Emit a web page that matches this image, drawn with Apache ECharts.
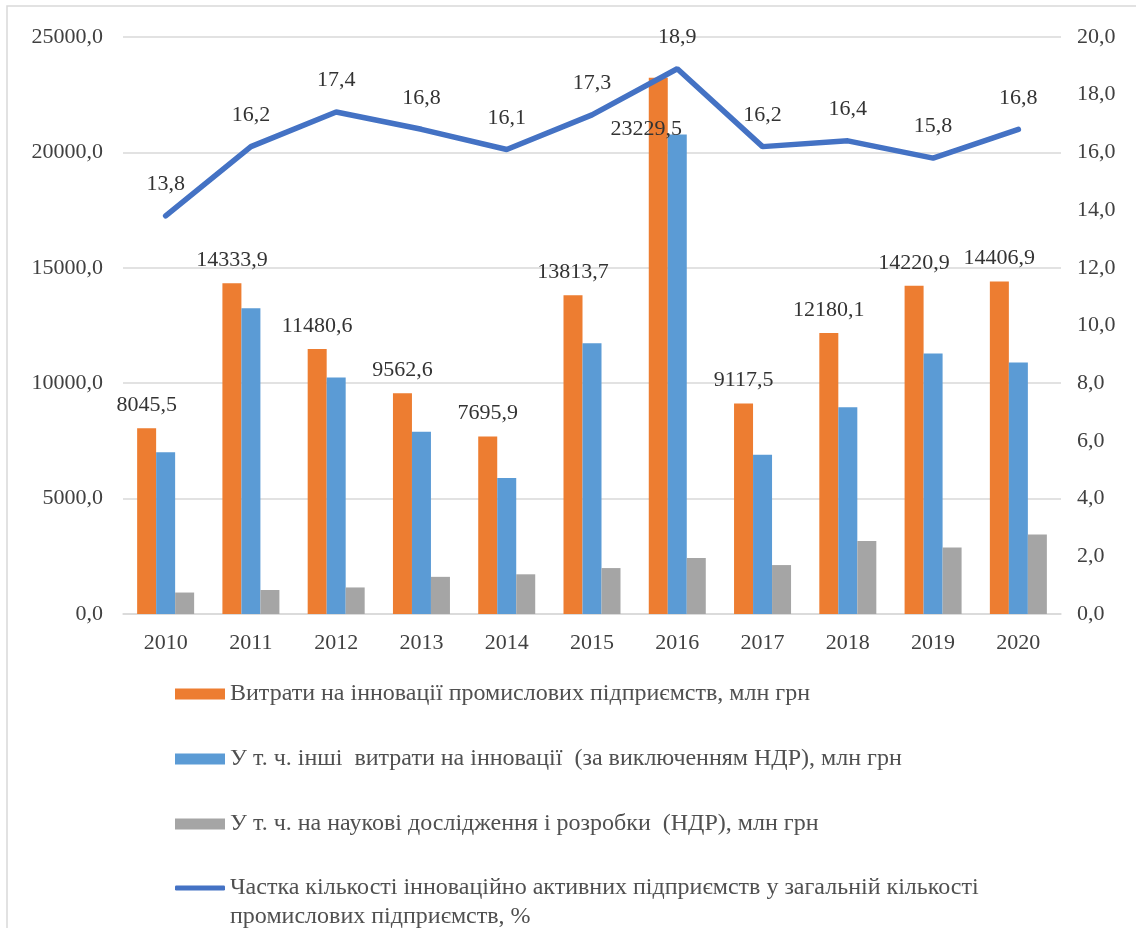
<!DOCTYPE html>
<html>
<head>
<meta charset="utf-8">
<script src="https://cdn.jsdelivr.net/npm/echarts@6/dist/echarts.min.js"></script>
<style>
	html, body { margin: 0; padding: 0; background: #fff; }
	#chart { width: 1136px; height: 928px; }
</style>
</head>
<body>
<div id="chart"></div>
<script>
	// дані з рисунка
	var years = ['2010', '2011', '2012', '2013', '2014', '2015', '2016', '2017', '2018', '2019', '2020'];
	var totalCosts = [8045.5, 14333.9, 11480.6, 9562.6, 7695.9, 13813.7, 23229.5, 9117.5, 12180.1, 14220.9, 14406.9];
	var otherCosts = [7010, 13250, 10250, 7900, 5890, 11730, 20780, 6900, 8960, 11290, 10900];
	var rndCosts = [930, 1040, 1150, 1610, 1720, 1990, 2430, 2120, 3160, 2880, 3440];
	var activeShare = [13.8, 16.2, 17.4, 16.8, 16.1, 17.3, 18.9, 16.2, 16.4, 15.8, 16.8];
	var leftTicks = { min: 0, max: 25000, interval: 5000 };
	var rightTicks = { min: 0, max: 20, interval: 2 };

	var names = [
		'Витрати на інновації промислових підприємств, млн грн',
		'У т. ч. інші  витрати на інновації  (за виключенням НДР), млн грн',
		'У т. ч. на наукові дослідження і розробки  (НДР), млн грн',
		'Частка кількості інноваційно активних підприємств у загальній кількості промислових підприємств, %'
	];

	var fmt = function (v) { return Number(v).toFixed(1).replace('.', ','); };
	var font = '"Liberation Serif", "DejaVu Serif", serif';
	var txt = '#404040';
	var legTxt = '#505050';

	// у 2016 підпис стоїть нижче, на самому стовпчику
	var totalData = totalCosts.map(function (v, i) {
		if (i === 6) {
			return { value: v, label: { position: 'insideTop', offset: [-12, 28] } };
		}
		return v;
	});

	var legendTops = [677, 742, 807, 871];
	var legends = names.map(function (n, i) {
		return {
			data: [i === 3 ? { name: n, icon: 'roundRect' } : { name: n, icon: 'rect' }],
			left: 170,
			top: legendTops[i],
			itemWidth: 50,
			itemHeight: i === 3 ? 5 : 11,
			itemGap: 0,
			selectedMode: false,
			formatter: function (name) {
				return i === 3 ? 'Частка кількості інноваційно активних підприємств у загальній кількості' : name;
			},
			textStyle: { fontFamily: font, fontSize: 24, color: legTxt }
		};
	});

	var myChart = echarts.init(document.getElementById('chart'));
	var option = {
		backgroundColor: '#fff',
		animation: false,
		color: ['#ED7D31', '#5B9BD5', '#A5A5A5', '#4472C4'],
		grid: { left: 123, right: 75, top: 37, bottom: 314 },
		legend: legends,
		graphic: [
			{ type: 'rect', shape: { x: 7, y: 6, width: 1160, height: 960 }, style: { fill: 'none', stroke: '#d9d9d9', lineWidth: 1.5 }, silent: true },
			{ type: 'text', style: { x: 230, y: 917, verticalAlign: 'middle', text: 'промислових підприємств, %', font: '24px ' + font, fill: legTxt } }
		],
		xAxis: [{
			type: 'category',
			data: years,
			axisTick: { show: false },
			axisLine: { lineStyle: { color: '#d9d9d9', width: 1.5 } },
			axisLabel: { color: txt, fontFamily: font, fontSize: 22, margin: 18 }
		}],
		yAxis: [{
			type: 'value',
			min: leftTicks.min, max: leftTicks.max, interval: leftTicks.interval,
			axisLine: { show: false },
			axisTick: { show: false },
			splitLine: { lineStyle: { color: '#d9d9d9', width: 1.5 } },
			axisLabel: { color: txt, fontFamily: font, fontSize: 22, margin: 20, formatter: fmt }
		}, {
			type: 'value',
			min: rightTicks.min, max: rightTicks.max, interval: rightTicks.interval,
			axisLine: { show: false },
			axisTick: { show: false },
			splitLine: { show: false },
			axisLabel: { color: txt, fontFamily: font, fontSize: 22, margin: 16, formatter: fmt }
		}],
		series: [{
			name: names[0], type: 'bar', data: totalData, barWidth: 19, barGap: '0%',
			label: {
				show: true, position: 'top', distance: 12,
				color: '#333', fontFamily: font, fontSize: 22,
				formatter: function (p) { return fmt(p.value); }
			}
		}, {
			name: names[1], type: 'bar', data: otherCosts, barWidth: 19, barGap: '0%'
		}, {
			name: names[2], type: 'bar', data: rndCosts, barWidth: 19, barGap: '0%'
		}, {
			name: names[3], type: 'line', yAxisIndex: 1, data: activeShare,
			symbol: 'circle', symbolSize: 1, showSymbol: true,
			itemStyle: { color: '#4472C4' },
			lineStyle: { width: 5.5, color: '#4472C4', cap: 'round' },
			label: {
				show: true, position: 'top', distance: 20,
				color: '#333', fontFamily: font, fontSize: 22,
				formatter: function (p) { return fmt(p.value); }
			},
			labelLayout: { hideOverlap: false }
		}]
	};
	myChart.setOption(option);
</script>
</body>
</html>
